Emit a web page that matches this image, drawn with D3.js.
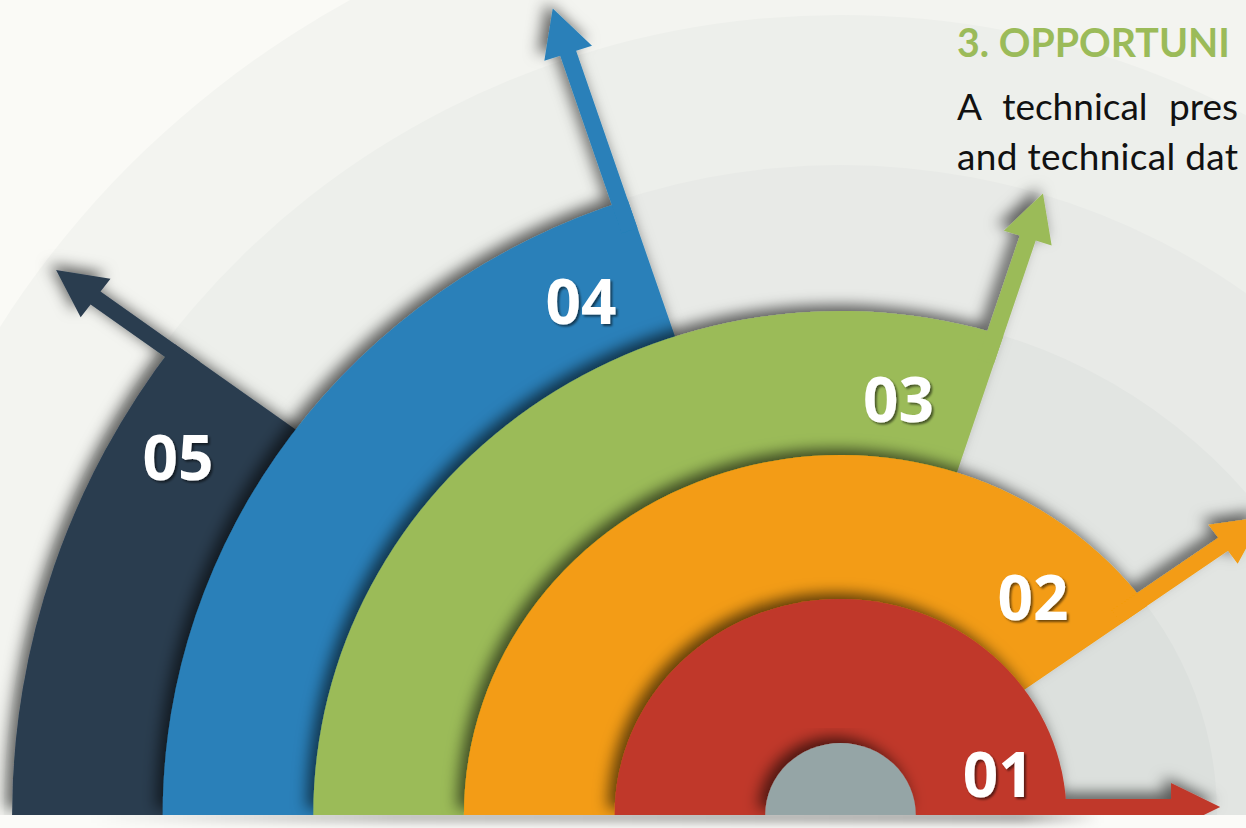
<!DOCTYPE html>
<html>
<head>
<meta charset="utf-8">
<script src="https://cdn.jsdelivr.net/npm/d3@7"></script>
<style>
  html, body { margin: 0; padding: 0; overflow: hidden; background: #fafaf6; }
</style>
</head>
<body>
<div id="chart"></div>
<script>
// step numbers, innermost first
var steps = ["01", "02", "03", "04", "05"];
// angle (degrees, counter-clockwise from the right) where each band stops and its arrow leaves
var endAngles = [0, 35.5, 72, 108.3, 143.5];
// visible part of the heading and text (the slide is cropped on the right)
var title = "3. OPPORTUNI";
var bodyLines = ["A technical pres", "and technical dat"];

// palette
var colors = ["#c0392b", "#f39c12", "#9bbb59", "#2980b9", "#2c3e50"];
var hubColor = "#95a5a6";

// layout
var width = 1246, height = 828;
var cx = 840.5, cy = 815, sx = 1.046;
var hubR = 72;
var arrowLen = [100, 95, 100, 157, 88];
var labelAngles = [14.9, 49.8, 82.4, 115.8, 150.6];
var labelR = [156, 285, 419, 570, 727];
var shaftW = 16, headHalf = 24, headLen = 47;
var textRight = 1238;

var svg = d3.select("#chart").append("svg")
  .attr("width", width)
  .attr("height", height);

var defs = svg.append("defs");

// drop shadow for the bands
var sh = defs.append("filter").attr("id", "bandShadow")
  .attr("x", "-20%").attr("y", "-20%").attr("width", "140%").attr("height", "140%");
sh.append("feDropShadow")
  .attr("dx", -6).attr("dy", -6).attr("stdDeviation", 7)
  .attr("flood-color", "#000").attr("flood-opacity", 0.6);

// small shadow for the numbers
var ts = defs.append("filter").attr("id", "textShadow");
ts.append("feDropShadow")
  .attr("dx", 2).attr("dy", 2).attr("stdDeviation", 1.2)
  .attr("flood-color", "#000").attr("flood-opacity", 0.55);

var blur = defs.append("filter").attr("id", "blur")
  .attr("x", "-10%").attr("y", "-200%").attr("width", "120%").attr("height", "500%");
blur.append("feGaussianBlur").attr("stdDeviation", 5);

var grad = defs.append("linearGradient").attr("id", "floorShade");
grad.append("stop").attr("offset", "0%").attr("stop-color", "#000").attr("stop-opacity", 0);
grad.append("stop").attr("offset", "30%").attr("stop-color", "#000").attr("stop-opacity", 0.25);
grad.append("stop").attr("offset", "92%").attr("stop-color", "#000").attr("stop-opacity", 0.35);
grad.append("stop").attr("offset", "100%").attr("stop-color", "#000").attr("stop-opacity", 0);

defs.append("clipPath").attr("id", "floorClip")
  .append("rect").attr("x", 0).attr("y", cy).attr("width", width).attr("height", height - cy);

// background
svg.append("rect").attr("width", width).attr("height", height).attr("fill", "#fafaf6");

// faint concentric background rings
var bgRadii = [940, 800, 650, 504, 360];
var bgFills = ["#f3f4f0", "#edefeb", "#e8eae7", "#e2e5e2", "#dce0dd"];
var center = svg.append("g")
  .attr("transform", "translate(" + cx + "," + cy + ") scale(" + sx + ",1)");

var half = d3.arc().innerRadius(0).startAngle(-Math.PI / 2).endAngle(Math.PI / 2);
center.selectAll("path.bg")
  .data(bgRadii)
  .enter().append("path")
  .attr("class", "bg")
  .attr("d", function(r) { return half.outerRadius(r)(); })
  .attr("fill", function(r, i) { return bgFills[i]; });

// floor strip and its shadow
svg.append("rect").attr("x", 0).attr("y", cy).attr("width", width).attr("height", height - cy)
  .attr("fill", "#fbfbf8");
svg.append("g").attr("clip-path", "url(#floorClip)")
  .append("rect")
  .attr("x", 90).attr("y", cy - 4).attr("width", 1010).attr("height", 12)
  .attr("fill", "url(#floorShade)")
  .attr("filter", "url(#blur)");

// radius of each band
var rScale = d3.scaleLinear().domain([0, steps.length - 1]).range([3 * hubR, (2 * steps.length + 1) * hubR]);
var toRad = function(deg) { return deg * Math.PI / 180; };

function pt(r, o, th) {
  // point at distance r along angle th, shifted o to its counter-clockwise side
  return [r * Math.cos(th) - o * Math.sin(th), -r * Math.sin(th) - o * Math.cos(th)];
}

function arrowPath(i) {
  var th = toRad(endAngles[i]);
  var R = rScale(i);
  var rs = R - 30, rh = R + arrowLen[i];
  var pts = [
    pt(rs, 0, th), pt(rh, 0, th),
    pt(rh, shaftW / 2 - headHalf, th),
    pt(rh + headLen, shaftW / 2, th),
    pt(rh, shaftW / 2 + headHalf, th),
    pt(rh, shaftW, th), pt(rs, shaftW, th)
  ];
  return d3.line()(pts) + "Z";
}

var sector = d3.arc().innerRadius(0).startAngle(-Math.PI / 2);

// draw bands from the outside in
var order = d3.range(steps.length).reverse();
var bands = center.selectAll("g.band")
  .data(order)
  .enter().append("g")
  .attr("class", "band")
  .attr("filter", "url(#bandShadow)");

bands.append("path")
  .attr("d", function(i) {
    return sector.outerRadius(rScale(i)).endAngle(Math.PI / 2 - toRad(endAngles[i]))();
  })
  .attr("fill", function(i) { return colors[i]; });

bands.append("path")
  .attr("d", function(i) { return arrowPath(i); })
  .attr("fill", function(i) { return colors[i]; });

// hub
center.append("path")
  .attr("d", half.outerRadius(hubR)())
  .attr("fill", hubColor)
  .attr("filter", "url(#bandShadow)");

// step numbers
var fs = 62;
svg.selectAll("text.step")
  .data(steps)
  .enter().append("text")
  .attr("class", "step")
  .attr("x", function(d, i) {
    return cx + sx * labelR[i] * Math.cos(toRad(labelAngles[i]));
  })
  .attr("y", function(d, i) {
    return cy - labelR[i] * Math.sin(toRad(labelAngles[i])) + fs * 0.36;
  })
  .attr("text-anchor", "middle")
  .attr("font-family", "'Open Sans', Lato, sans-serif")
  .attr("font-weight", 700)
  .attr("font-size", fs)
  .attr("fill", "#fff")
  .attr("filter", "url(#textShadow)")
  .text(function(d) { return d; });

// stretch or squeeze a text so it ends at the given x
function fitRight(sel, right) {
  sel.each(function() {
    var len = this.getComputedTextLength();
    var x = +this.getAttribute("x");
    var target = right - x;
    d3.select(this)
      .attr("textLength", target)
      .attr("lengthAdjust", len > target ? "spacingAndGlyphs" : "spacing");
  });
}

// heading and text on the right
var head = svg.append("text")
  .attr("x", 957).attr("y", 57)
  .attr("font-family", "Lato, 'Open Sans', sans-serif")
  .attr("font-weight", 700)
  .attr("font-size", 41)
  .attr("fill", "#9bbb59")
  .text(title);
fitRight(head, textRight - 8);

var body = svg.selectAll("text.body")
  .data(bodyLines)
  .enter().append("text")
  .attr("class", "body")
  .attr("x", 957)
  .attr("y", function(d, i) { return 120 + i * 50; })
  .attr("font-family", "Lato, 'Open Sans', sans-serif")
  .attr("font-size", 37)
  .attr("fill", "#111")
  .attr("word-spacing", function(d, i) { return i === 0 ? 12 : 0; })
  .text(function(d) { return d; });
fitRight(body, textRight);
</script>
</body>
</html>
